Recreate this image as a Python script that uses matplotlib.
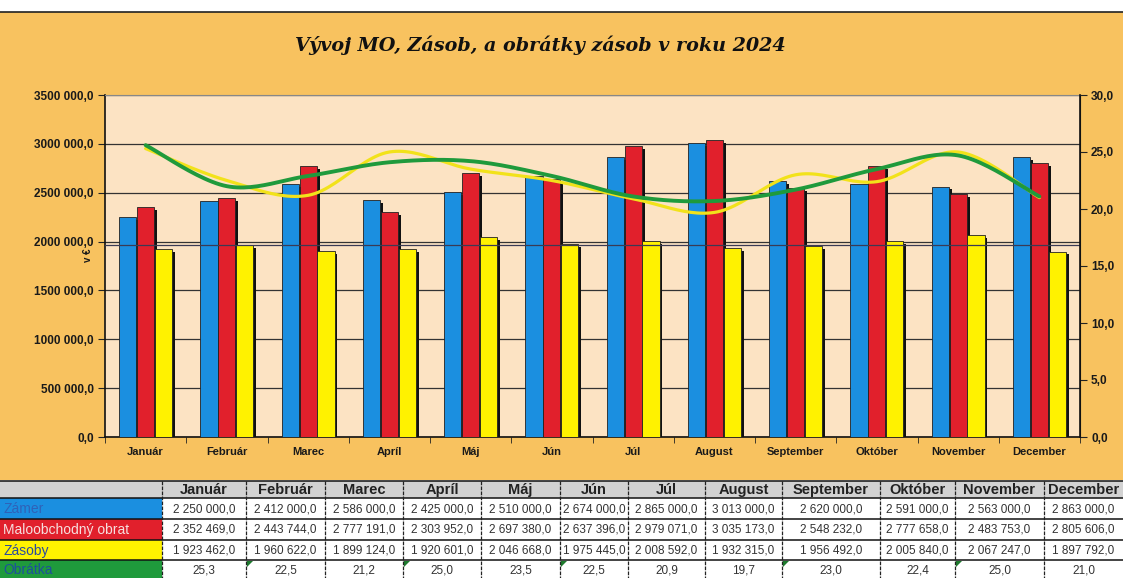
import numpy as np
import matplotlib
matplotlib.use('Agg')
import matplotlib.pyplot as plt
from matplotlib.patches import Rectangle, Polygon

months = ['Január', 'Február', 'Marec', 'Apríl', 'Máj', 'Jún', 'Júl',
          'August', 'September', 'Október', 'November', 'December']
zamer = [2250000, 2412000, 2586000, 2425000, 2510000, 2674000,
         2865000, 3013000, 2620000, 2591000, 2563000, 2863000]
mo_obrat = [2352469, 2443744, 2777191, 2303952, 2697380, 2637396,
            2979071, 3035173, 2548232, 2777658, 2483753, 2805606]
zasoby = [1923462, 1960622, 1899124, 1920601, 2046668, 1975445,
          2008592, 1932315, 1956492, 2005840, 2067247, 1897792]
obratka = [25.3, 22.5, 21.2, 25.0, 23.5, 22.5, 20.9, 19.7, 23.0, 22.4, 25.0, 21.0]
# polynomial trendline of obratka
obratka_trend = [25.6, 22.0, 22.9, 24.1, 24.2, 22.9, 21.1, 20.7, 21.7, 23.5, 24.7, 21.1]
# cells with the small green error marker in the table
flagged = [1, 3, 5, 8, 10]

row_labels = ['Zámer', 'Maloobchodný obrat', 'Zásoby', 'Obrátka']

BLUE = '#1b8fe0'
RED = '#e1202c'
YELLOW = '#fff200'
GREEN = '#1f9a3c'
ORANGE = '#f8c25f'
PLOT_BG = '#fce3c3'

W, H = 1123, 578
plt.rcParams['font.family'] = ['Liberation Sans', 'DejaVu Sans']


def smooth(x, y, n=24):
    """Excel-like smoothed line (Catmull-Rom as cubic Bezier)"""
    pts = np.column_stack([x, y]).astype(float)
    pad = np.vstack([pts[0], pts, pts[-1]])
    t = np.linspace(0, 1, n, endpoint=False)[:, None]
    out = []
    for i in range(len(pts) - 1):
        p0, p1, p2, p3 = pad[i], pad[i + 1], pad[i + 2], pad[i + 3]
        c1 = p1 + (p2 - p0) / 6
        c2 = p2 - (p3 - p1) / 6
        out.append((1 - t) ** 3 * p1 + 3 * (1 - t) ** 2 * t * c1
                   + 3 * (1 - t) * t ** 2 * c2 + t ** 3 * p2)
    out.append(pts[-1:])
    seg = np.vstack(out)
    return seg[:, 0], seg[:, 1]


def left_fmt(v, pos=None):
    v = int(round(v))
    if v < 1000:
        return f'{v},0'
    return f'{v // 1000} {v % 1000:03d},0'


def table_fmt(v):
    return f'{v:,.1f}'.replace(',', ' ').replace('.', ',')


fig = plt.figure(figsize=(W / 100, H / 100), dpi=100)
fig.patch.set_facecolor('white')

# orange chart area
fig.add_artist(Rectangle((0, (H - 480) / H), 1, (480 - 12) / H,
                         transform=fig.transFigure, facecolor=ORANGE,
                         edgecolor='none', zorder=0))
fig.add_artist(plt.Line2D([0, 1], [(H - 12) / H] * 2, transform=fig.transFigure,
                          color='#222222', lw=1.2, zorder=1))

fig.text(540 / W, 1 - 45 / H, 'Vývoj MO, Zásob, a obrátky zásob v roku 2024',
         family='DejaVu Serif', style='italic', weight='bold', fontsize=13.8,
         ha='center', va='center', color='#111111')

ax = fig.add_axes([105 / W, (H - 437) / H, (1080 - 105) / W, (437 - 95) / H])
ax.set_facecolor(PLOT_BG)
x = np.arange(len(months))
bw = 0.21
offs = [-0.22, 0.0, 0.22]
dx = 0.035
dy = 30000
for k, (vals, col) in enumerate([(zamer, BLUE), (mo_obrat, RED), (zasoby, YELLOW)]):
    ax.bar(x + offs[k] + dx, np.array(vals) - dy, width=bw, color='#111111',
           zorder=2 + k * 2)
    ax.bar(x + offs[k], vals, width=bw, color=col, edgecolor='#222222',
           linewidth=0.6, zorder=3 + k * 2)

ax.axhline(np.mean(zasoby), color='#3a3a55', lw=0.9, zorder=9)

ax.set_xlim(-0.5, len(months) - 0.5)
ax.set_ylim(0, 3500000)
ax.set_yticks(np.arange(0, 3500001, 500000))
ax.yaxis.set_major_formatter(left_fmt)
ax.grid(axis='y', color='#333333', lw=0.9, zorder=1)
ax.set_axisbelow(True)
ax.set_xticks(x)
ax.set_xticklabels(months, fontsize=8, fontweight='bold', color='#1a1a1a')
ax.set_xticks(np.arange(-0.5, len(months), 1), minor=True)
ax.tick_params(axis='x', which='major', length=0, pad=7)
ax.tick_params(axis='x', which='minor', length=4, direction='out', color='#222222')
ax.tick_params(axis='y', length=5, direction='out', labelsize=8.5, color='#222222',
               labelcolor='#1a1a1a', pad=3)
for lab in ax.get_yticklabels():
    lab.set_fontweight('bold')
for s in ['left', 'bottom']:
    ax.spines[s].set_color('#111111')
    ax.spines[s].set_linewidth(1.2)
ax.spines['top'].set_color('#888888')
ax.spines['right'].set_color('#111111')

fig.text(88 / W, 1 - 255 / H, 'v €', rotation=90, fontsize=7, fontweight='bold',
         ha='center', va='center', color='#1a1a1a')

ax2 = ax.twinx()
ax2.set_ylim(0, 30)
ax2.set_yticks(np.arange(0, 31, 5))
ax2.yaxis.set_major_formatter(lambda v, p: f'{v:.1f}'.replace('.', ','))
ax2.tick_params(axis='y', length=5, direction='out', labelsize=8.5,
                color='#222222', labelcolor='#1a1a1a', pad=3)
for lab in ax2.get_yticklabels():
    lab.set_fontweight('bold')
ax2.spines['right'].set_color('#111111')
ax2.spines['right'].set_linewidth(1.2)
ax2.spines['left'].set_visible(False)
ax2.spines['top'].set_visible(False)
ax2.spines['bottom'].set_visible(False)

sx, sy = smooth(x, obratka)
ax2.plot(sx, sy, color='#f2e21a', lw=2.3, zorder=4, solid_capstyle='round')
tx, ty = smooth(x, obratka_trend)
ax2.plot(tx, ty, color=GREEN, lw=2.8, zorder=5, solid_capstyle='round')

# data table below the chart (pixel coordinates)
tb = fig.add_axes([0, 0, 1, (H - 480) / H])
tb.set_xlim(0, W)
tb.set_ylim(H - 480, 0)
tb.axis('off')
edges = [0, 162, 246, 325, 403, 481, 560, 628, 705, 782, 880, 955, 1044, 1123]
rows_y = [1, 18, 39, 60, 80, 100]

tb.add_patch(Rectangle((0, rows_y[0]), W, rows_y[1] - rows_y[0],
                       facecolor='#d2d2d2', edgecolor='none'))
for j, m in enumerate(months):
    cx = (edges[j + 1] + edges[j + 2]) / 2
    tb.text(cx, (rows_y[0] + rows_y[1]) / 2 + 0.5, m, ha='center', va='center',
            fontsize=10.5, fontweight='bold', color='#222222')

row_data = [zamer, mo_obrat, zasoby, obratka]
row_cols = [BLUE, RED, YELLOW, GREEN]
label_cols = ['#2f62b8', '#f6dede', '#2a4aa0', '#1d4f9c']
for i, (lab, vals) in enumerate(zip(row_labels, row_data)):
    y0, y1 = rows_y[i + 1], rows_y[i + 2]
    tb.add_patch(Rectangle((0, y0), edges[1], y1 - y0, facecolor=row_cols[i],
                           edgecolor='none'))
    tb.add_patch(Rectangle((edges[1], y0), W - edges[1], y1 - y0,
                           facecolor='white', edgecolor='none'))
    tb.text(3, (y0 + y1) / 2 + 0.5, lab, ha='left', va='center', fontsize=10,
            color=label_cols[i])
    for j, v in enumerate(vals):
        cx = (edges[j + 1] + edges[j + 2]) / 2
        txt = f'{v:.1f}'.replace('.', ',') if i == 3 else table_fmt(v)
        tb.text(cx, (y0 + y1) / 2 + 0.5, txt, ha='center', va='center',
                fontsize=8.5, color='#333333')
        if i == 3 and j in flagged:
            ex = edges[j + 1] + 1
            tb.add_patch(Polygon([[ex, y0 + 1], [ex + 6, y0 + 1], [ex, y0 + 7]],
                                 closed=True, facecolor='#1e7a2e', edgecolor='none'))

for yy in rows_y[:5]:
    tb.plot([0, W], [yy, yy], color='#111111', lw=1.1)
for e in edges[1:-1]:
    tb.plot([e, e], [rows_y[0], H - 480], color='#222222', lw=0.9, ls=(0, (3, 1)))

fig.savefig('out.png', dpi=100, facecolor=fig.get_facecolor())
